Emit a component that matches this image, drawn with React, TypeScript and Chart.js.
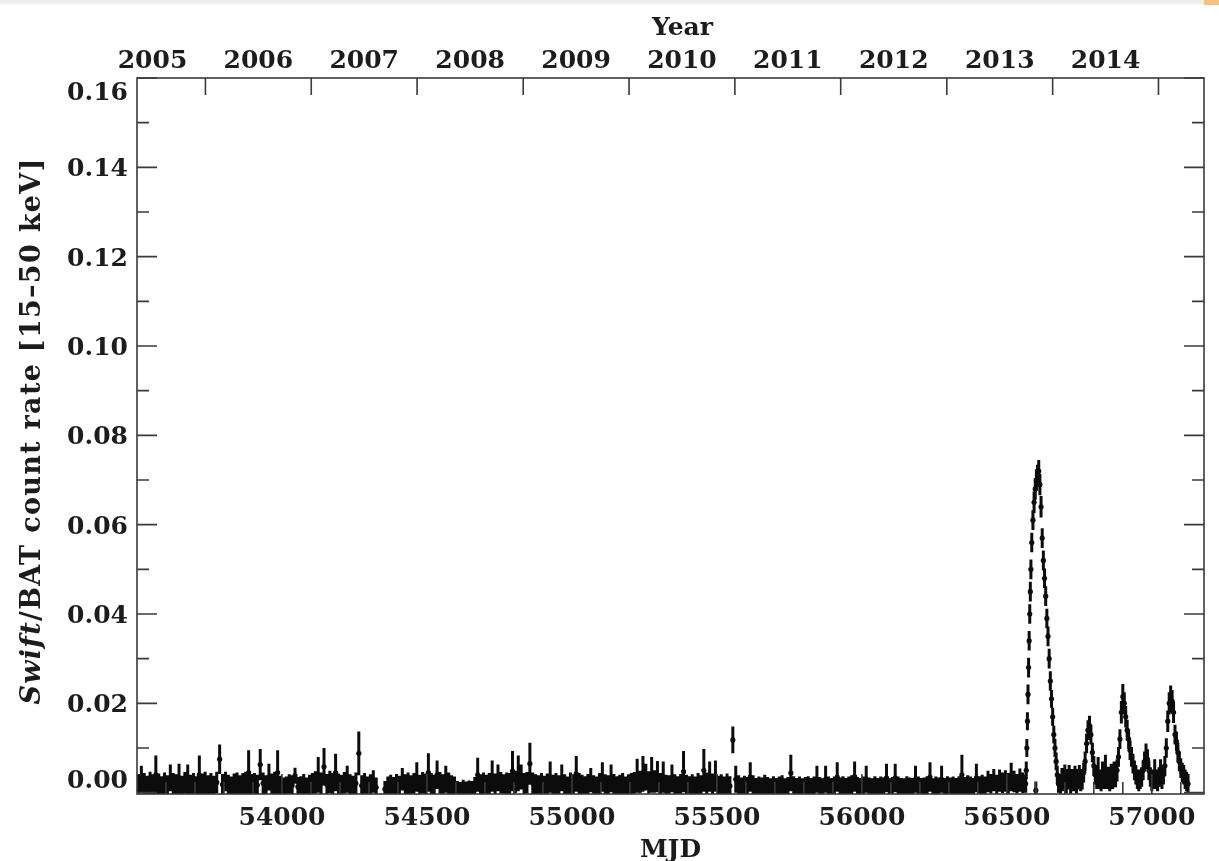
import React, { useEffect, useRef } from "react";
import { Chart, registerables } from "chart.js";

Chart.register(...registerables);

// Swift/BAT 15–50 keV light curve. Rates are stored in units of 1e-4 counts/cm^2/s.
const RATE_UNIT = 1e-4;

// Quiescent part: 10-day bins, first bin centred on MJD 53505
const BASE_START_MJD = 53505;
const BASE_BIN_DAYS = 10;
const baseRate: (number | null)[] = [
  18, 30, 20, 15, 22, 17, 40, 19, 14, 21,
  16, 33, 20, 18, 30, 15, 22, 30, 17, 20,
  14, 40, 19, 22, 16, 20, 15, 23, 75, 18,
  25, 17, 14, 19, 21, 16, 20, 22, 45, 18,
  20, 17, 63, 21, 16, 35, 19, 22, 45, 15,
  12, 14, 18, 16, 38, 13, 15, 19, 12, 17,
  20, 23, 40, 21, 58, 18, 24, 20, 45, 19,
  17, 22, 30, 18, 15, 21, 88, 16, 20, 14,
  18, 25, 12, null, null, 8, 14, 17, 13, 19,
  15, 30, 18, 21, 16, 20, 35, 17, 22, 19,
  45, 20, 17, 40, 22, 18, 30, 21, 16, 14,
  10, 8, 12, 9, 11, 10, 15, 40, 18, 21,
  17, 20, 37, 19, 33, 22, 18, 21, 20, 48,
  24, 43, 35, 20, 22, 65, 21, 18, 16, 20,
  15, 19, 35, 17, 20, 16, 33, 18, 14, 21,
  18, 42, 20, 17, 15, 19, 28, 16, 14, 20,
  35, 18, 16, 32, 19, 15, 17, 20, 14, 18,
  20, 22, 38, 24, 42, 35, 23, 40, 25, 36,
  20, 35, 17, 16, 32, 18, 15, 19, 47, 17,
  15, 18, 14, 20, 16, 50, 21, 36, 19, 37,
  16, 18, 14, 20, 15, 118, 30, 17, 13, 16,
  14, 35, 17, 12, 15, 13, 18, 14, 12, 16,
  13, 15, 17, 12, 14, 44, 16, 13, 15, 12,
  14, 16, 13, 15, 30, 14, 12, 30, 15, 13,
  15, 35, 14, 16, 13, 15, 17, 36, 14, 13,
  15, 30, 14, 12, 16, 13, 15, 14, 33, 12,
  14, 33, 15, 13, 12, 16, 14, 13, 30, 15,
  13, 14, 16, 35, 12, 15, 14, 30, 13, 16,
  14, 15, 13, 16, 40, 14, 17, 15, 13, 33,
  16, 18, 15, 25, 20, 28, 18, 27, 22, 26,
  21, 35, 25, 20, 28, 22,
];
const baseErr: number[] = [
  24, 30, 24, 23, 25, 24, 43, 24, 23, 24,
  23, 30, 24, 23, 35, 23, 24, 33, 23, 24,
  23, 43, 24, 25, 23, 24, 23, 24, 33, 24,
  22, 23, 22, 24, 24, 23, 24, 25, 50, 24,
  24, 23, 35, 24, 23, 30, 24, 25, 50, 23,
  22, 22, 23, 23, 18, 22, 22, 23, 22, 23,
  24, 25, 40, 24, 42, 24, 25, 24, 42, 24,
  23, 24, 30, 23, 23, 24, 49, 23, 24, 22,
  23, 25, 22, 0, 0, 18, 22, 23, 22, 23,
  23, 25, 23, 24, 23, 24, 33, 23, 24, 24,
  43, 24, 23, 32, 24, 23, 30, 24, 23, 22,
  16, 16, 17, 16, 16, 16, 20, 38, 23, 24,
  23, 24, 35, 24, 30, 24, 23, 24, 24, 45,
  25, 40, 28, 24, 24, 47, 24, 23, 23, 24,
  23, 24, 35, 23, 24, 23, 30, 23, 22, 24,
  23, 40, 24, 23, 22, 23, 27, 23, 22, 24,
  33, 23, 23, 31, 23, 22, 23, 24, 22, 23,
  24, 24, 38, 25, 40, 30, 25, 40, 25, 35,
  24, 35, 23, 23, 31, 23, 22, 23, 46, 23,
  22, 23, 22, 24, 23, 48, 24, 34, 24, 35,
  22, 23, 22, 23, 22, 30, 30, 22, 21, 22,
  21, 33, 22, 21, 21, 21, 22, 21, 20, 21,
  20, 21, 22, 20, 21, 41, 21, 20, 21, 20,
  21, 21, 20, 21, 30, 21, 20, 30, 21, 20,
  21, 33, 20, 21, 20, 21, 22, 34, 21, 20,
  21, 30, 20, 20, 21, 20, 21, 20, 32, 20,
  21, 32, 21, 20, 20, 21, 20, 20, 30, 21,
  20, 20, 21, 33, 20, 21, 20, 30, 20, 21,
  20, 21, 20, 21, 45, 21, 22, 21, 20, 32,
  21, 22, 21, 24, 22, 25, 22, 25, 23, 24,
  23, 32, 24, 22, 26, 23,
];

// Giant outburst 2013
const outburstMjd = [
  56565, 56567, 56569, 56571, 56573, 56575, 56577, 56579, 56581, 56583,
  56586, 56590, 56594, 56598, 56600, 56602, 56606, 56610, 56614, 56618,
  56622, 56626, 56630, 56634, 56638, 56642, 56646, 56650, 56654, 56658,
  56662, 56666, 56670, 56674, 56678,
];
const outburstRate = [
  20, 50, 100, 160, 220, 280, 340, 400, 450, 500,
  560, 610, 650, 680, 5, 700, 710, 720, 690, 640,
  570, 520, 480, 440, 390, 350, 300, 250, 210, 170,
  130, 100, 70, 40, 20,
];
const outburstErr = [
  20, 20, 20, 20, 22, 22, 22, 22, 22, 22,
  22, 22, 24, 24, 20, 24, 24, 25, 24, 24,
  22, 22, 22, 22, 22, 22, 22, 22, 20, 20,
  20, 20, 20, 20, 20,
];

// 2014 activity: 5-day bins
const lateMjd = [
  56685, 56690, 56695, 56700, 56705, 56710, 56715, 56720, 56725, 56730,
  56735, 56740, 56745, 56750, 56755, 56760, 56765, 56770, 56775, 56780,
  56785, 56790, 56795, 56800, 56805, 56810, 56815, 56820, 56825, 56830,
  56835, 56840, 56845, 56850, 56855, 56860, 56865, 56870, 56875, 56880,
  56885, 56890, 56895, 56900, 56905, 56910, 56915, 56920, 56925, 56930,
  56935, 56940, 56945, 56950, 56955, 56960, 56965, 56970, 56975, 56980,
  56985, 56990, 56995, 57000, 57005, 57010, 57015, 57020, 57025, 57030,
  57035, 57040, 57045, 57050, 57055, 57060, 57065, 57070, 57075, 57080,
  57085, 57090, 57095, 57100, 57105, 57110, 57115, 57120, 57125,
];
const lateRate = [
  20, 30, 25, 35, 20, 30, 35, 20, 30, 25,
  35, 20, 30, 35, 25, 30, 45, 70, 110, 140,
  150, 130, 90, 60, 40, 30, 45, 30, 25, 40,
  30, 50, 30, 35, 25, 40, 30, 45, 35, 50,
  80, 120, 180, 215, 200, 170, 140, 120, 95, 80,
  65, 50, 40, 30, 25, 30, 35, 50, 70, 85,
  75, 50, 35, 25, 30, 45, 30, 25, 35, 45,
  30, 40, 60, 100, 160, 200, 215, 205, 180, 130,
  115, 90, 70, 55, 45, 40, 30, 25, 20,
];
const lateErr = [
  22, 25, 22, 28, 22, 23, 27, 22, 23, 22,
  25, 22, 23, 27, 22, 23, 22, 22, 22, 22,
  22, 22, 22, 22, 22, 22, 35, 22, 22, 30,
  22, 35, 22, 23, 22, 25, 22, 25, 23, 25,
  22, 22, 25, 28, 25, 24, 23, 22, 22, 22,
  22, 22, 22, 22, 22, 22, 22, 22, 22, 25,
  22, 22, 22, 22, 22, 30, 22, 22, 22, 30,
  22, 22, 22, 22, 24, 25, 25, 25, 24, 22,
  22, 22, 22, 22, 22, 22, 22, 22, 22,
];

// Axes
const X_MIN = 53500;
const X_MAX = 57180;
const Y_MIN = -0.0003;
const Y_MAX = 0.16;
const yMajorTicks = [0, 0.02, 0.04, 0.06, 0.08, 0.1, 0.12, 0.14, 0.16];
const yTickLabels = ["0.00", "0.02", "0.04", "0.06", "0.08", "0.10", "0.12", "0.14", "0.16"];
const yMinorTicks = [0.01, 0.03, 0.05, 0.07, 0.09, 0.11, 0.13, 0.15];
const mjdMajorTicks = [54000, 54500, 55000, 55500, 56000, 56500, 57000];
const mjdTickLabels = ["54000", "54500", "55000", "55500", "56000", "56500", "57000"];
const mjdMinorTicks = [
  53600, 53700, 53800, 53900, 54100, 54200, 54300, 54400, 54600, 54700, 54800, 54900,
  55100, 55200, 55300, 55400, 55600, 55700, 55800, 55900, 56100, 56200, 56300, 56400,
  56600, 56700, 56800, 56900, 57100,
];
const yearStartMjd = [53736, 54101, 54466, 54832, 55197, 55562, 55927, 56293, 56658, 57023];
const yearLabels = ["2005", "2006", "2007", "2008", "2009", "2010", "2011", "2012", "2013", "2014"];
const yearMidMjd = [53553.5, 53918.5, 54283.5, 54649, 55014.5, 55379.5, 55744.5, 56110, 56475.5, 56840.5];

type Pt = { x: number; y: number; e: number };
const points: Pt[] = [];
baseRate.forEach((r, i) => {
  if (r == null) return;
  points.push({ x: BASE_START_MJD + i * BASE_BIN_DAYS, y: r * RATE_UNIT, e: baseErr[i] * RATE_UNIT });
});
outburstMjd.forEach((m, i) => points.push({ x: m, y: outburstRate[i] * RATE_UNIT, e: outburstErr[i] * RATE_UNIT }));
lateMjd.forEach((m, i) => points.push({ x: m, y: lateRate[i] * RATE_UNIT, e: lateErr[i] * RATE_UNIT }));

const FONT_FAMILY = '"DejaVu Serif", "Liberation Serif", serif';
const FONT_SIZE = 25;
const INK = "#1c1c1c";
const FRAME = "#3a3a3a";

const errorBarPlugin = {
  id: "errorBars",
  beforeDatasetsDraw(chart: any) {
    const { ctx, chartArea: a } = chart;
    const xs = chart.scales.x;
    const ys = chart.scales.y;
    ctx.save();
    ctx.beginPath();
    ctx.rect(a.left, a.top, a.right - a.left, a.bottom - a.top);
    ctx.clip();
    ctx.strokeStyle = "#0c0c0c";
    ctx.lineWidth = 3;
    ctx.lineCap = "butt";
    ctx.beginPath();
    for (const p of points) {
      const x = xs.getPixelForValue(p.x);
      ctx.moveTo(x, ys.getPixelForValue(p.y - p.e));
      ctx.lineTo(x, ys.getPixelForValue(p.y + p.e));
    }
    ctx.stroke();
    ctx.restore();
  },
};

const framePlugin = {
  id: "frame",
  afterDraw(chart: any) {
    const { ctx, chartArea: a } = chart;
    const xs = chart.scales.x;
    const ys = chart.scales.y;
    ctx.save();
    // thin screenshot strip at the very top
    ctx.fillStyle = "#efefef";
    ctx.fillRect(0, 0, chart.width, 4);
    ctx.fillStyle = "#f2c47e";
    ctx.fillRect(chart.width - 15, 0, 15, 5);

    ctx.strokeStyle = FRAME;
    ctx.lineWidth = 1.6;
    ctx.strokeRect(a.left, a.top, a.right - a.left, a.bottom - a.top);

    ctx.beginPath();
    const hTick = (v: number, len: number) => {
      const y = ys.getPixelForValue(v);
      ctx.moveTo(a.left, y);
      ctx.lineTo(a.left + len, y);
      ctx.moveTo(a.right, y);
      ctx.lineTo(a.right - len, y);
    };
    yMajorTicks.forEach((v) => hTick(v, 20));
    yMinorTicks.forEach((v) => hTick(v, 12));
    mjdMajorTicks.forEach((m) => {
      const x = xs.getPixelForValue(m);
      ctx.moveTo(x, a.bottom);
      ctx.lineTo(x, a.bottom - 20);
    });
    mjdMinorTicks.forEach((m) => {
      const x = xs.getPixelForValue(m);
      ctx.moveTo(x, a.bottom);
      ctx.lineTo(x, a.bottom - 12);
    });
    yearStartMjd.forEach((m) => {
      const x = xs.getPixelForValue(m);
      ctx.moveTo(x, a.top);
      ctx.lineTo(x, a.top + 17);
    });
    ctx.stroke();

    ctx.fillStyle = INK;
    ctx.font = `bold ${FONT_SIZE}px ${FONT_FAMILY}`;
    ctx.textBaseline = "alphabetic";
    const digitH = FONT_SIZE * 0.73;

    // y tick labels
    ctx.textAlign = "right";
    yMajorTicks.forEach((v, i) => {
      let cy = ys.getPixelForValue(v);
      cy = Math.max(a.top + 4 + digitH / 2, Math.min(a.bottom - 6 - digitH / 2, cy));
      ctx.fillText(yTickLabels[i], a.left - 9, cy + digitH / 2);
    });

    // bottom MJD labels
    ctx.textAlign = "center";
    mjdMajorTicks.forEach((m, i) => {
      ctx.fillText(mjdTickLabels[i], xs.getPixelForValue(m), a.bottom + 31);
    });
    // top year labels
    yearMidMjd.forEach((m, i) => {
      ctx.fillText(yearLabels[i], xs.getPixelForValue(m), a.top - 10);
    });

    const cx = (a.left + a.right) / 2;
    ctx.fillText("MJD", cx, a.bottom + 63);
    ctx.fillText("Year", cx + 12, a.top - 43);

    // y-axis title with italic "Swift"
    const TITLE_SIZE = 27;
    const italicFont = `italic bold ${TITLE_SIZE}px ${FONT_FAMILY}`;
    const normalFont = `bold ${TITLE_SIZE}px ${FONT_FAMILY}`;
    const part1 = "Swift";
    const part2 = "/BAT count rate [15–50 keV]";
    (ctx as any).letterSpacing = "1.3px";
    ctx.font = italicFont;
    const w1 = ctx.measureText(part1).width;
    ctx.font = normalFont;
    const w2 = ctx.measureText(part2).width;
    const total = w1 + w2;
    ctx.save();
    ctx.translate(40, 431);
    ctx.rotate(-Math.PI / 2);
    ctx.textAlign = "left";
    ctx.font = italicFont;
    ctx.fillText(part1, -total / 2, 0);
    ctx.font = normalFont;
    ctx.fillText(part2, -total / 2 + w1, 0);
    ctx.restore();
    (ctx as any).letterSpacing = "0px";

    ctx.restore();
  },
};

export default function App() {
  const canvasRef = useRef<HTMLCanvasElement | null>(null);

  useEffect(() => {
    const canvas = canvasRef.current;
    if (!canvas) return;
    const chart = new Chart(canvas, {
      type: "scatter",
      data: {
        datasets: [
          {
            data: points.map((p) => ({ x: p.x, y: p.y })),
            pointRadius: 2.6,
            pointHoverRadius: 2.6,
            pointBackgroundColor: "#0c0c0c",
            pointBorderWidth: 0,
            showLine: false,
          },
        ],
      },
      options: {
        responsive: false,
        animation: false,
        devicePixelRatio: 1,
        layout: { padding: { left: 137, top: 78, right: 15, bottom: 67 } },
        scales: {
          x: { type: "linear", min: X_MIN, max: X_MAX, display: false },
          y: { type: "linear", min: Y_MIN, max: Y_MAX, display: false },
        },
        plugins: {
          legend: { display: false },
          tooltip: { enabled: false },
        },
        events: [],
      },
      plugins: [errorBarPlugin, framePlugin],
    });
    return () => chart.destroy();
  }, []);

  return (
    <div style={{ position: "fixed", left: 0, top: 0, width: 1219, height: 861, background: "#ffffff" }}>
      <canvas ref={canvasRef} width={1219} height={861} style={{ display: "block" }} />
    </div>
  );
}
